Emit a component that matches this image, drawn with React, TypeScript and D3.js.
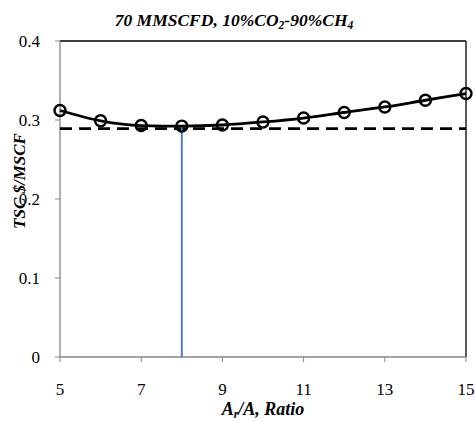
import * as d3 from "d3";

const ratios = [5, 6, 7, 8, 9, 10, 11, 12, 13, 14, 15];
const tscValues = [0.312, 0.299, 0.293, 0.2923, 0.2937, 0.2975, 0.3025, 0.3095, 0.3165, 0.325, 0.3335];
const refLevel = 0.289;
const optimumRatio = 8;
const xTicks = [5, 7, 9, 11, 13, 15];
const yTicks = [0, 0.1, 0.2, 0.3, 0.4];

const W = 475;
const H = 421;
const M = { top: 41, right: 9, bottom: 64, left: 60 };
const FONT = "Liberation Serif";

const App = () => {
  const x = d3.scaleLinear().domain([5, 15]).range([M.left, W - M.right]);
  const y = d3.scaleLinear().domain([0, 0.4]).range([H - M.bottom, M.top]);

  const pts = ratios.map((r, i) => ({ r, v: tscValues[i] }));
  const line = d3
    .line<{ r: number; v: number }>()
    .x((d) => x(d.r))
    .y((d) => y(d.v))
    .curve(d3.curveMonotoneX);

  const gray = "#868686";
  const optV = tscValues[ratios.indexOf(optimumRatio)];

  return (
    <svg width={W} height={H} style={{ position: "absolute", left: 0, top: 0, background: "#fff" }}>
      {/* frame: top & right black */}
      <line x1={x(5)} x2={x(15)} y1={y(0.4)} y2={y(0.4)} stroke="#000" strokeWidth={1.3} />
      <line x1={x(15)} x2={x(15)} y1={y(0.4)} y2={y(0)} stroke="#000" strokeWidth={1.3} />

      {/* axes */}
      <line x1={x(5)} x2={x(5)} y1={y(0.4)} y2={y(0)} stroke={gray} strokeWidth={1.3} />
      <line x1={x(5)} x2={x(15)} y1={y(0)} y2={y(0)} stroke={gray} strokeWidth={1.3} />
      {yTicks.map((t) => (
        <g key={"y" + t}>
          <line x1={x(5) - 5} x2={x(5)} y1={y(t)} y2={y(t)} stroke={gray} strokeWidth={1} />
          <text x={x(5) - 20} y={y(t)} dy="0.33em" textAnchor="end" fontSize={17} fontFamily={FONT}>
            {t === 0 ? "0" : t.toFixed(1)}
          </text>
        </g>
      ))}
      {xTicks.map((t) => (
        <g key={"x" + t}>
          <line x1={x(t)} x2={x(t)} y1={y(0)} y2={y(0) + 5} stroke={gray} strokeWidth={1} />
          <text x={x(t)} y={y(0) + 38} textAnchor="middle" fontSize={17} fontFamily={FONT}>
            {t}
          </text>
        </g>
      ))}

      {/* reference dashed line */}
      <line
        x1={x(5)}
        x2={x(15)}
        y1={y(refLevel)}
        y2={y(refLevel)}
        stroke="#000"
        strokeWidth={2.7}
        strokeDasharray="12,7"
      />

      {/* optimum vertical */}
      <line
        x1={x(optimumRatio)}
        x2={x(optimumRatio)}
        y1={y(0)}
        y2={y(optV)}
        stroke="#4a7ebb"
        strokeWidth={2}
      />

      {/* series */}
      <path d={line(pts) ?? ""} fill="none" stroke="#000" strokeWidth={2.8} />
      {pts.map((d) => (
        <circle key={d.r} cx={x(d.r)} cy={y(d.v)} r={5.5} fill="none" stroke="#000" strokeWidth={2.4} />
      ))}

      {/* title */}
      <text x={234} y={26} textAnchor="middle" fontSize={17.5} fontWeight="bold" fontStyle="italic" fontFamily={FONT}>
        70 MMSCFD, 10%CO
        <tspan fontSize={11.5} dy={3}>2</tspan>
        <tspan dy={-3}>-90%CH</tspan>
        <tspan fontSize={11.5} dy={3}>4</tspan>
      </text>

      {/* y label */}
      <text
        transform={`translate(25,181) rotate(-90)`}
        textAnchor="middle"
        fontSize={17}
        fontWeight="bold"
        fontStyle="italic"
        fontFamily={FONT}
      >
        TSC $/MSCF
      </text>

      {/* x label */}
      <text x={263} y={415} textAnchor="middle" fontSize={18} fontWeight="bold" fontStyle="italic" fontFamily={FONT}>
        A
        <tspan fontSize={12} dy={3}>r</tspan>
        <tspan dy={-3}>/A, Ratio</tspan>
      </text>
    </svg>
  );
};

export default App;
